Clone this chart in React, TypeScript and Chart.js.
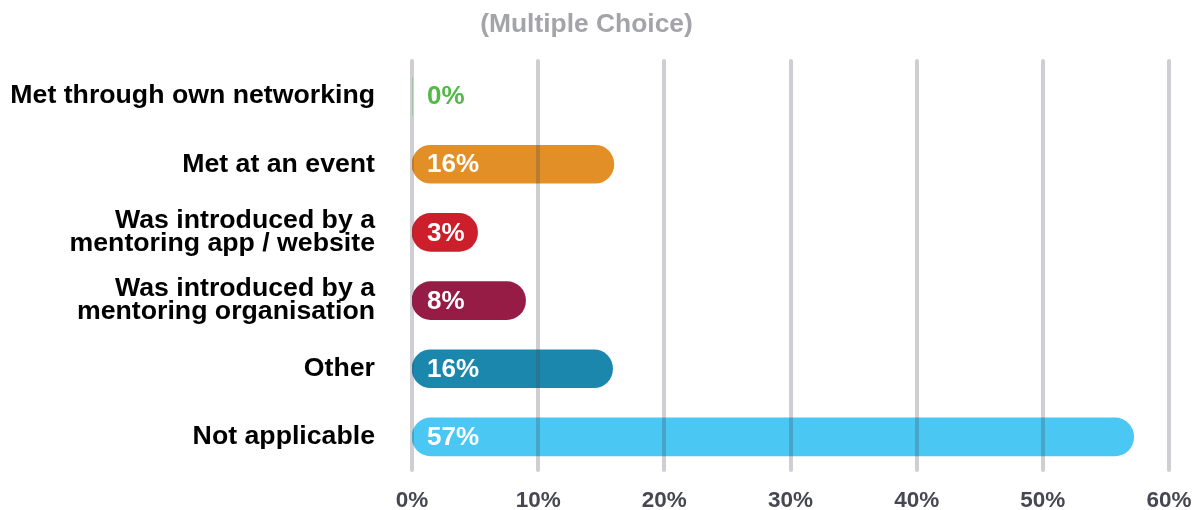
import React, { useEffect, useRef } from "react";
import { Chart, registerables } from "chart.js";

Chart.register(...registerables);

const titleText = "(Multiple Choice)";
const categories: (string | string[])[] = [
  "Met through own networking",
  "Met at an event",
  ["Was introduced by a", "mentoring app / website"],
  ["Was introduced by a", "mentoring organisation"],
  "Other",
  "Not applicable",
];
// percentages shown on the bars
const shownPercents = [0, 16, 3, 8, 16, 57];
// bar lengths as drawn in the picture (percent units)
const barLengths = [0, 16, 5.2, 9, 15.9, 57.2];
const barColors = ["#52b848", "#e38f28", "#cc1f2b", "#961b45", "#1b87ad", "#4ac7f3"];
const xTicks = [0, 10, 20, 30, 40, 50, 60];

const FONT = "'Liberation Sans', Arial, Helvetica, sans-serif";

const overlayPlugin = {
  id: "overlay",
  afterDatasetsDraw(chart: any) {
    const { ctx, chartArea, scales } = chart;
    const xs = scales.x;
    // gridlines on top of bars
    ctx.save();
    ctx.strokeStyle = "rgba(70,70,85,0.26)";
    ctx.lineWidth = 4;
    ctx.lineCap = "round";
    for (const v of xTicks) {
      const px = Math.round(xs.getPixelForValue(v));
      ctx.beginPath();
      ctx.moveTo(px, chartArea.top - 1);
      ctx.lineTo(px, chartArea.bottom - 1);
      ctx.stroke();
    }
    ctx.restore();
    // value labels
    const meta = chart.getDatasetMeta(0);
    ctx.save();
    ctx.font = `bold 26px ${FONT}`;
    ctx.textBaseline = "middle";
    ctx.textAlign = "left";
    meta.data.forEach((bar: any, i: number) => {
      ctx.fillStyle = shownPercents[i] === 0 ? barColors[i] : "#ffffff";
      ctx.fillText(shownPercents[i] + "%", bar.base + 15, bar.y + 1);
    });
    ctx.restore();
    // title
    ctx.save();
    ctx.font = `bold 26.4px ${FONT}`;
    ctx.fillStyle = "#a3a3aa";
    ctx.textAlign = "center";
    ctx.textBaseline = "middle";
    ctx.fillText(titleText, chart.width / 2 - 14, 17);
    ctx.restore();
  },
};

export default function App() {
  const ref = useRef<HTMLCanvasElement>(null);
  useEffect(() => {
    document.documentElement.style.overflow = "hidden";
    document.body.style.marginBottom = "0px";
    if (!ref.current) return;
    const chart = new Chart(ref.current, {
      type: "bar",
      data: {
        labels: categories,
        datasets: [
          {
            data: barLengths,
            backgroundColor: barColors,
            borderRadius: 19,
            borderSkipped: false,
            barThickness: 38,
          },
        ],
      },
      options: {
        indexAxis: "y",
        animation: false,
        responsive: false,
        maintainAspectRatio: false,
        devicePixelRatio: 1,
        layout: { padding: { top: 54, right: 24, left: 0, bottom: 0 } },
        plugins: {
          legend: { display: false },
          tooltip: { enabled: false },
          title: { display: false },
        },
        scales: {
          x: {
            min: 0,
            max: 60,
            grid: { display: false },
            border: { display: false },
            ticks: {
              stepSize: 10,
              padding: 8,
              color: "#474752",
              font: { family: FONT, size: 22.5, weight: "bold" },
              callback: (v: any) => v + "%",
            },
            afterFit: (s: any) => {
              s.height = 39;
              s.paddingLeft = 0;
              s.paddingRight = 0;
            },
          },
          y: {
            grid: { display: false },
            border: { display: false },
            ticks: {
              padding: 29,
              color: "#000000",
              font: { family: FONT, size: 26.7, weight: "bold", lineHeight: 0.86 },
            },
            afterFit: (s: any) => {
              s.width = 404;
              s.paddingTop = 0;
              s.paddingBottom = 0;
            },
          },
        },
      },
      plugins: [overlayPlugin],
    });
    return () => chart.destroy();
  }, []);
  return (
    <div style={{ width: "1185px", height: "502px" }}>
      <canvas ref={ref} width={1185} height={502} style={{ display: "block" }} />
    </div>
  );
}
